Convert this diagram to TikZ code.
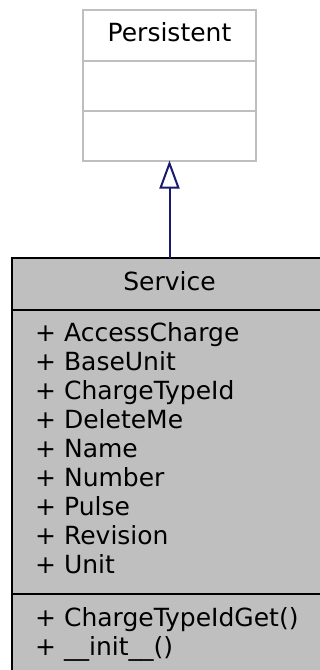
\documentclass[tikz,border=0pt]{standalone}
\usepackage{fontspec}
\setmainfont{DejaVu Sans}
\usetikzlibrary{positioning,arrows.meta}
\definecolor{grey75}{HTML}{BFBFBF}
\definecolor{navy}{HTML}{191970}

\begin{document}
\begin{tikzpicture}[
    x=1pt, y=-1pt,
    umlfont/.style={font=\fontsize{25}{29}\selectfont},
    persbox/.style={rectangle, draw=grey75, line width=2pt, fill=white, minimum width=173pt, inner sep=0pt, outer sep=0pt},
    servbox/.style={rectangle, draw=black, line width=2pt, fill=grey75, minimum width=316pt, inner sep=0pt, outer sep=0pt},
    headtext/.style={umlfont, text height=18pt, text depth=6pt},
    member/.style={umlfont, anchor=base west, inner sep=0pt},
    inherit/.style={draw=navy, line width=2pt, -{Triangle[open, length=28pt, width=20pt]}}
]
\useasboundingbox (0,0) rectangle (320,670);
\clip (0,0) rectangle (320,670);

% Base class
\node[persbox, headtext, minimum height=51pt] (persistent) at (169.5,35) {Persistent};
\node[persbox, minimum height=50pt, below=0pt of persistent] (persistentattr) {};
\node[persbox, minimum height=50pt, below=0pt of persistentattr] (persistentops) {};

% Derived class
\node[servbox, headtext, minimum height=52pt] (service) at (169.5,284) {Service};
\node[servbox, minimum height=284pt, below=0pt of service] (serviceattr) {};
\node[servbox, minimum height=90pt, below=0pt of serviceattr] (serviceops) {};

% Members
\foreach \m [count=\i from 0] in {AccessCharge, BaseUnit, ChargeTypeId, DeleteMe, Name, Number, Pulse, Revision, Unit}
    \node[member] (attr\i) at (35, 341+29*\i) {+ \m};
\node[member] (op0) at (35,626) {+ ChargeTypeIdGet()};
\node[member] (op1) at (35,655) {+ \_\_init\_\_()};

\draw[inherit] (service.north) -- (persistentops.south);
\end{tikzpicture}
\end{document}
